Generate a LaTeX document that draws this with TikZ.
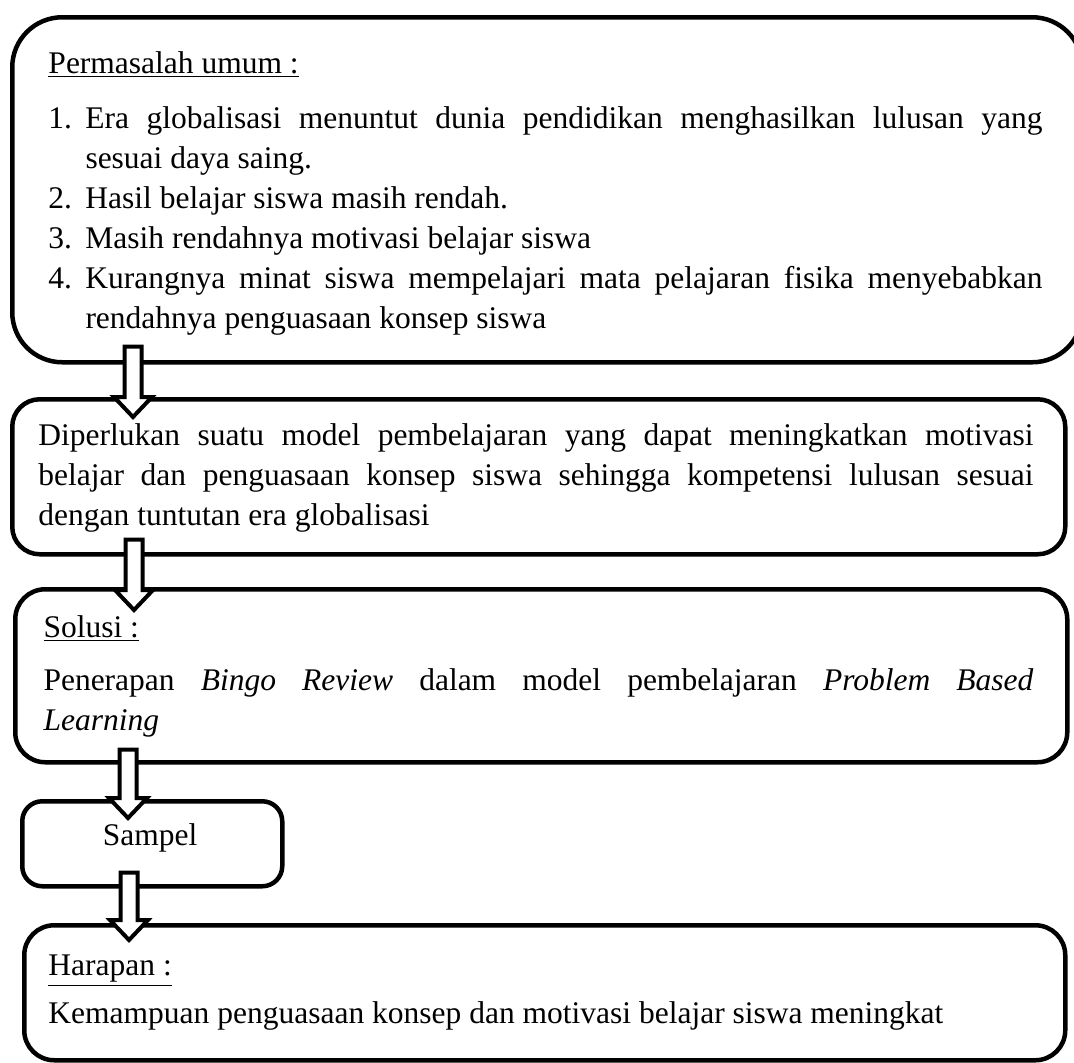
\documentclass[tikz,border=0pt]{standalone}
\usepackage{fontspec}
\setmainfont{Liberation Serif}
\usetikzlibrary{calc}
\tikzset{
    flowbox/.style={draw, line width=1.8pt, rounded corners=12pt, inner sep=0pt,
        anchor=north west},
    flowtext/.style={anchor=base west, inner sep=0pt, align=justify,
        font=\fontsize{12.6}{16}\selectfont},
    blockarrow/.style={draw, fill=white, line width=1.6pt, line join=miter}
}
% numbered line with hanging indent
\newcommand{\butir}[2]{\hangindent=14.8pt\hangafter=1\noindent\makebox[14.8pt][l]{#1.}#2\par}
% hollow down arrow from #1 to tip #2
\newcommand{\flowarrow}[2]{%
    \draw[blockarrow] let \p1=(#1), \p2=(#2) in
        (\x1-3.4pt,\y1) -- (\x1+3.4pt,\y1) -- (\x1+3.4pt,\y2+8pt) -- (\x1+7.6pt,\y2+8pt)
        -- (\x1,\y2) -- (\x1-7.6pt,\y2+8pt) -- (\x1-3.4pt,\y2+8pt) -- cycle;}

\begin{document}
\begin{tikzpicture}[x=0.4pt, y=-0.4pt]
\clip (0,0) rectangle (1074,1062);

% boxes
\node[flowbox, minimum width=428pt, minimum height=138pt, rounded corners=20pt] (masalah) at (10,15) {};
\node[flowbox, minimum width=421.2pt, minimum height=62pt, rounded corners=11pt] (perlu) at (10,397) {};
\node[flowbox, minimum width=420.8pt, minimum height=69.2pt] (solusi) at (13,587) {};
\node[flowbox, minimum width=104pt, minimum height=34pt, rounded corners=8pt] (sampel) at (20,799) {};
\node[flowbox, minimum width=416.4pt, minimum height=54pt] (harapan) at (22,923) {};

% texts
\node[flowtext] (judulmasalah) at (48,73) {\underline{Permasalah umum :}};
\node[flowtext, text width=397.6pt] (daftarmasalah) at (48,128) {%
    \butir{1}{Era globalisasi menuntut dunia pendidikan menghasilkan lulusan yang\linebreak sesuai daya saing.}%
    \butir{2}{Hasil belajar siswa masih rendah.}%
    \butir{3}{Masih rendahnya motivasi belajar siswa}%
    \butir{4}{Kurangnya minat siswa mempelajari mata pelajaran fisika menyebabkan\linebreak rendahnya penguasaan konsep siswa}};
\node[flowtext, text width=398pt] (teksperlu) at (38,445) {%
    Diperlukan suatu model pembelajaran yang dapat meningkatkan motivasi\linebreak
    belajar dan penguasaan konsep siswa sehingga kompetensi lulusan sesuai\linebreak
    dengan tuntutan era globalisasi};
\node[flowtext] (judulsolusi) at (43,637) {\underline{Solusi :}};
\node[flowtext, text width=396pt] (tekssolusi) at (43,690) {%
    Penerapan \textit{Bingo Review} dalam model pembelajaran \textit{Problem Based}\linebreak
    \textit{Learning}};
\node[flowtext, anchor=base] (tekssampel) at (150,845) {Sampel};
\node[flowtext] (judulharapan) at (48,975) {\underline{Harapan :}};
\node[flowtext] (teksharapan) at (48,1023) {Kemampuan penguasaan konsep dan motivasi belajar siswa meningkat};

% arrows
\coordinate (a1) at ($(masalah.south west)+(123,-18)$);
\coordinate (b1) at ($(perlu.north west)+(123,20)$);
\coordinate (a2) at ($(perlu.south west)+(124,-17)$);
\coordinate (b2) at ($(solusi.north west)+(121,23)$);
\coordinate (a3) at ($(solusi.south west)+(115,-15)$);
\coordinate (b3) at ($(sampel.north west)+(108,19)$);
\coordinate (a4) at ($(sampel.south west)+(109,-16)$);
\coordinate (b4) at ($(harapan.north west)+(107,17)$);
\flowarrow{a1}{b1}
\flowarrow{a2}{b2}
\flowarrow{a3}{b3}
\flowarrow{a4}{b4}
\end{tikzpicture}
\end{document}
